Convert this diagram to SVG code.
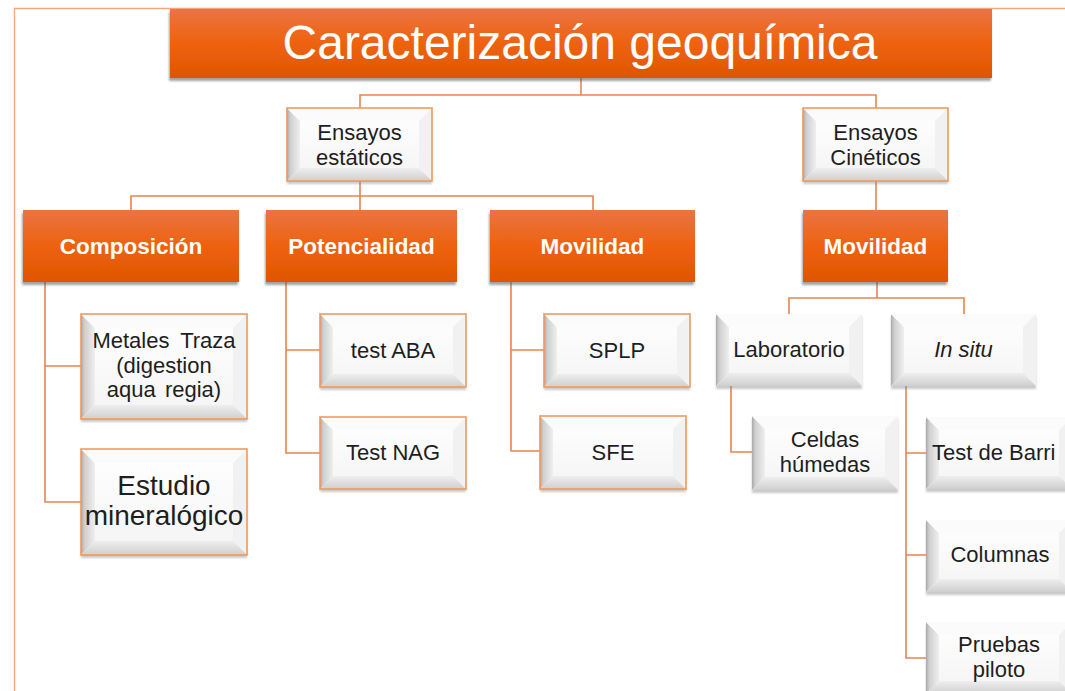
<svg xmlns="http://www.w3.org/2000/svg" width="1065" height="691" viewBox="0 0 1065 691">
<defs>
<linearGradient id="gOr" x1="0" y1="0" x2="0" y2="1">
<stop offset="0" stop-color="#EA7444"/><stop offset="0.5" stop-color="#EE620E"/><stop offset="1" stop-color="#DF5600"/>
</linearGradient>
<linearGradient id="gL" x1="0" y1="0" x2="1" y2="0">
<stop offset="0" stop-color="#a9a9a9"/><stop offset="0.25" stop-color="#cfcfcf"/><stop offset="1" stop-color="#efefef"/>
</linearGradient>
<linearGradient id="gB" x1="0" y1="1" x2="0" y2="0">
<stop offset="0" stop-color="#cfcfcf"/><stop offset="1" stop-color="#eeeeee"/>
</linearGradient>
<linearGradient id="gF" x1="0" y1="0" x2="0" y2="1">
<stop offset="0" stop-color="#ffffff"/><stop offset="1" stop-color="#f4f4f4"/>
</linearGradient>
<filter id="sh" x="-10%" y="-10%" width="120%" height="130%">
<feDropShadow dx="-1" dy="3" stdDeviation="1.2" flood-color="#555" flood-opacity="0.55"/>
</filter>
<filter id="shw" x="-10%" y="-10%" width="120%" height="130%">
<feDropShadow dx="0" dy="3" stdDeviation="1.2" flood-color="#888" flood-opacity="0.45"/>
</filter>
</defs>
<style>
.frame{fill:none;stroke:#F2A77A;stroke-width:1.3}
.con{fill:none;stroke:#E8844E;stroke-width:1.6}
.or{fill:url(#gOr);filter:url(#sh)}
.face{fill:url(#gF);filter:url(#shw)}
.bl{fill:url(#gL)}
.bt{fill:#fbfbfb}
.br{fill:#f1f1f1}
.bb{fill:url(#gB)}
.ob{fill:none;stroke:#F29A5C;stroke-width:1.6}
.t{font-family:"Liberation Sans",Arial,sans-serif;font-size:22px;fill:#1e1e1e;text-anchor:middle}
.big{font-size:28px}
.st{text-anchor:start}
.it{font-style:italic}
.w{font-family:"Liberation Sans",Arial,sans-serif;font-size:22.5px;font-weight:bold;fill:#ffffff;text-anchor:middle}
</style>
<rect width="1065" height="691" fill="#ffffff"/>
<path class="frame" d="M14.5,691 V8.5 H1065"/>

<g id="connectors">
<path class="con" d="M581,78 V95 M360,108 V95 H876 V108"/>
<path class="con" d="M360,181 V210 M131,210 V196 H593 V210"/>
<path class="con" d="M876,181 V210"/>
<path class="con" d="M45,282 V502 H81 M45,366 H81"/>
<path class="con" d="M286,282 V453 H320 M286,350 H320"/>
<path class="con" d="M511,282 V451 H540 M511,350 H544"/>
<path class="con" d="M877,282 V298 M789,314 V298 H964 V314"/>
<path class="con" d="M731,386 V452 H752"/>
<path class="con" d="M906,386 V658 H926 M906,453 H926 M906,555 H926"/>
</g>

<g id="title">
<rect class="or" x="170" y="9" width="822" height="69"/>
<text x="580" y="59" font-family="Liberation Sans,Arial,sans-serif" font-size="48" fill="#ffffff" text-anchor="middle">Caracterización geoquímica</text>
</g>

<g id="ensayos-estaticos" transform="translate(287,108)">
<rect class="face" width="145" height="73"/>
<polygon class="bl" points="0,0 13,13 13,60 0,73"/>
<polygon class="bt" points="0,0 145,0 132,13 13,13"/>
<polygon class="br" points="145,0 145,73 132,60 132,13"/>
<polygon class="bb" points="0,73 145,73 132,60 13,60"/>
<rect class="ob" width="145" height="73"/>
<text class="t" x="72.5" y="32">Ensayos</text>
<text class="t" x="72.5" y="57">estáticos</text>
</g>

<g id="ensayos-cineticos" transform="translate(803,108)">
<rect class="face" width="145" height="73"/>
<polygon class="bl" points="0,0 13,13 13,60 0,73"/>
<polygon class="bt" points="0,0 145,0 132,13 13,13"/>
<polygon class="br" points="145,0 145,73 132,60 132,13"/>
<polygon class="bb" points="0,73 145,73 132,60 13,60"/>
<rect class="ob" width="145" height="73"/>
<text class="t" x="72.5" y="32">Ensayos</text>
<text class="t" x="72.5" y="57">Cinéticos</text>
</g>

<g id="composicion">
<rect class="or" x="23" y="210" width="216" height="72"/>
<text class="w" x="131" y="254">Composición</text>
</g>
<g id="potencialidad">
<rect class="or" x="266" y="210" width="191" height="72"/>
<text class="w" x="361.5" y="254">Potencialidad</text>
</g>
<g id="movilidad-estatico">
<rect class="or" x="490" y="210" width="205" height="72"/>
<text class="w" x="592.5" y="254">Movilidad</text>
</g>
<g id="movilidad-cinetico">
<rect class="or" x="803" y="210" width="145" height="72"/>
<text class="w" x="875.5" y="254">Movilidad</text>
</g>

<g id="metales-traza" transform="translate(81,314)">
<rect class="face" width="166" height="105"/>
<polygon class="bl" points="0,0 14,14 14,91 0,105"/>
<polygon class="bt" points="0,0 166,0 152,14 14,14"/>
<polygon class="br" points="166,0 166,105 152,91 152,14"/>
<polygon class="bb" points="0,105 166,105 152,91 14,91"/>
<rect class="ob" width="166" height="105"/>
<text class="t" x="83" y="34" word-spacing="5">Metales Traza</text>
<text class="t" x="83" y="59">(digestion</text>
<text class="t" x="83" y="83" word-spacing="3">aqua regia)</text>
</g>

<g id="estudio-mineralogico" transform="translate(81,449)">
<rect class="face" width="166" height="106"/>
<polygon class="bl" points="0,0 14,14 14,92 0,106"/>
<polygon class="bt" points="0,0 166,0 152,14 14,14"/>
<polygon class="br" points="166,0 166,106 152,92 152,14"/>
<polygon class="bb" points="0,106 166,106 152,92 14,92"/>
<rect class="ob" width="166" height="106"/>
<text class="t big" x="83" y="46">Estudio</text>
<text class="t big" x="83" y="76">mineralógico</text>
</g>

<g id="test-aba" transform="translate(320,314)">
<rect class="face" width="146" height="73"/>
<polygon class="bl" points="0,0 13,13 13,60 0,73"/>
<polygon class="bt" points="0,0 146,0 133,13 13,13"/>
<polygon class="br" points="146,0 146,73 133,60 133,13"/>
<polygon class="bb" points="0,73 146,73 133,60 13,60"/>
<rect class="ob" width="146" height="73"/>
<text class="t" x="73" y="44">test ABA</text>
</g>

<g id="test-nag" transform="translate(320,417)">
<rect class="face" width="146" height="72"/>
<polygon class="bl" points="0,0 13,13 13,59 0,72"/>
<polygon class="bt" points="0,0 146,0 133,13 13,13"/>
<polygon class="br" points="146,0 146,72 133,59 133,13"/>
<polygon class="bb" points="0,72 146,72 133,59 13,59"/>
<rect class="ob" width="146" height="72"/>
<text class="t" x="73" y="43">Test NAG</text>
</g>

<g id="splp" transform="translate(544,314)">
<rect class="face" width="146" height="73"/>
<polygon class="bl" points="0,0 13,13 13,60 0,73"/>
<polygon class="bt" points="0,0 146,0 133,13 13,13"/>
<polygon class="br" points="146,0 146,73 133,60 133,13"/>
<polygon class="bb" points="0,73 146,73 133,60 13,60"/>
<rect class="ob" width="146" height="73"/>
<text class="t" x="73" y="44">SPLP</text>
</g>

<g id="sfe" transform="translate(540,416)">
<rect class="face" width="146" height="73"/>
<polygon class="bl" points="0,0 13,13 13,60 0,73"/>
<polygon class="bt" points="0,0 146,0 133,13 13,13"/>
<polygon class="br" points="146,0 146,73 133,60 133,13"/>
<polygon class="bb" points="0,73 146,73 133,60 13,60"/>
<rect class="ob" width="146" height="73"/>
<text class="t" x="73" y="44">SFE</text>
</g>

<g id="laboratorio" transform="translate(716,314)">
<rect class="face" width="146" height="72"/>
<polygon class="bl" points="0,0 13,13 13,59 0,72"/>
<polygon class="bt" points="0,0 146,0 133,13 13,13"/>
<polygon class="br" points="146,0 146,72 133,59 133,13"/>
<polygon class="bb" points="0,72 146,72 133,59 13,59"/>
<text class="t" x="73" y="43">Laboratorio</text>
</g>

<g id="in-situ" transform="translate(891,314)">
<rect class="face" width="145" height="72"/>
<polygon class="bl" points="0,0 13,13 13,59 0,72"/>
<polygon class="bt" points="0,0 145,0 132,13 13,13"/>
<polygon class="br" points="145,0 145,72 132,59 132,13"/>
<polygon class="bb" points="0,72 145,72 132,59 13,59"/>
<text class="t it" x="72.5" y="43">In situ</text>
</g>

<g id="celdas-humedas" transform="translate(752,416)">
<rect class="face" width="146" height="74"/>
<polygon class="bl" points="0,0 13,13 13,61 0,74"/>
<polygon class="bt" points="0,0 146,0 133,13 13,13"/>
<polygon class="br" points="146,0 146,74 133,61 133,13"/>
<polygon class="bb" points="0,74 146,74 133,61 13,61"/>
<text class="t" x="73" y="31">Celdas</text>
<text class="t" x="73" y="56">húmedas</text>
</g>

<g id="test-de-barri" transform="translate(926,417)">
<rect class="face" width="146" height="72"/>
<polygon class="bl" points="0,0 13,13 13,59 0,72"/>
<polygon class="bt" points="0,0 146,0 133,13 13,13"/>
<polygon class="br" points="146,0 146,72 133,59 133,13"/>
<polygon class="bb" points="0,72 146,72 133,59 13,59"/>
<text class="t st" x="6" y="43">Test de Barri</text>
</g>

<g id="columnas" transform="translate(926,520)">
<rect class="face" width="146" height="72"/>
<polygon class="bl" points="0,0 13,13 13,59 0,72"/>
<polygon class="bt" points="0,0 146,0 133,13 13,13"/>
<polygon class="br" points="146,0 146,72 133,59 133,13"/>
<polygon class="bb" points="0,72 146,72 133,59 13,59"/>
<text class="t" x="74" y="42">Columnas</text>
</g>

<g id="pruebas-piloto" transform="translate(926,622)">
<rect class="face" width="146" height="72"/>
<polygon class="bl" points="0,0 13,13 13,59 0,72"/>
<polygon class="bt" points="0,0 146,0 133,13 13,13"/>
<polygon class="br" points="146,0 146,72 133,59 133,13"/>
<polygon class="bb" points="0,72 146,72 133,59 13,59"/>
<text class="t" x="73" y="30">Pruebas</text>
<text class="t" x="73" y="55">piloto</text>
</g>
</svg>
